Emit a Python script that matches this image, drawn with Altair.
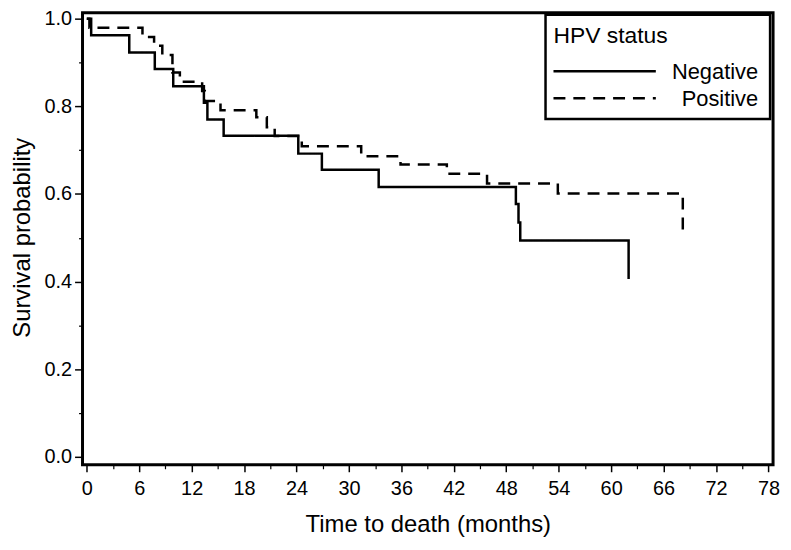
import altair as alt
import pandas as pd

# Kaplan-Meier estimates
neg_t = [0, 0.5, 4.86, 7.78, 9.89, 13.4, 13.8, 15.66, 24.2, 26.9, 33.4, 49.1, 49.4, 49.6, 62.0]
neg_s = [1.0, 0.962, 0.923, 0.885, 0.846, 0.808, 0.770, 0.733, 0.692, 0.655, 0.616, 0.577, 0.535, 0.494, 0.406]

pos_t = [0, 0.3, 6.37, 7.7, 8.64, 9.8, 10.65, 13.2, 13.5, 15.3, 19.4, 20.6, 21.5, 24.6, 31.4, 35.9, 41.2, 45.8, 53.9, 68.2]
pos_s = [1.0, 0.979, 0.958, 0.938, 0.917, 0.877, 0.856, 0.835, 0.812, 0.791, 0.775, 0.752, 0.732, 0.709, 0.686, 0.667, 0.646, 0.624, 0.601, 0.501]

groups = ["Negative", "Positive"]
legend_title = "HPV status"
x_major = list(range(0, 79, 6))
x_minor = list(range(3, 79, 6))
y_major = [0.0, 0.2, 0.4, 0.6, 0.8, 1.0]
y_minor = [0.1, 0.3, 0.5, 0.7, 0.9]

df = pd.concat([
    pd.DataFrame({"t": neg_t, "s": neg_s, "g": groups[0]}),
    pd.DataFrame({"t": pos_t, "s": pos_s, "g": groups[1]}),
], ignore_index=True)

FONT = "Liberation Sans"
DASH = [12, 8]
xscale = alt.Scale(domain=[-0.49, 78.53], nice=False, zero=False)
yscale = alt.Scale(domain=[-0.018, 1.0136], nice=False, zero=False)

main = alt.Chart(df).mark_line(interpolate="step-after", color="black", strokeWidth=2.5).encode(
    x=alt.X("t:Q", scale=xscale, axis=alt.Axis(
        values=x_major, orient="bottom", title="Time to death (months)",
        tickSize=7, tickWidth=1.5, labelFontSize=20, labelPadding=7,
        titleFontSize=24, titleY=60, titleBaseline="middle", labelFlush=False)),
    y=alt.Y("s:Q", scale=yscale, axis=alt.Axis(
        values=y_major, format=".1f", orient="left", title="Survival probability",
        tickSize=8, tickWidth=1.5, labelFontSize=20, labelPadding=3,
        titleFontSize=24, titleX=-60, titleY=226, titleBaseline="middle", labelFlush=False)),
    strokeDash=alt.StrokeDash("g:N", scale=alt.Scale(domain=groups, range=[[1, 0], DASH]), legend=None),
    order="t:Q",
)

minor = alt.Chart(df).mark_point(opacity=0).encode(
    x=alt.X("t:Q", scale=xscale, title=None, axis=alt.Axis(
        values=x_minor, labels=False, tickSize=4, tickWidth=1.2, orient="bottom")),
    y=alt.Y("s:Q", scale=yscale, title=None, axis=alt.Axis(
        values=y_minor, labels=False, tickSize=4, tickWidth=1.2, orient="left")),
)

# legend drawn as decoration
leg_df = pd.DataFrame({"g": groups})
box = alt.Chart(leg_df.head(1)).mark_rect(fill="white", stroke="black", strokeWidth=2.5).encode(
    x=alt.value(466), x2=alt.value(692), y=alt.value(2), y2=alt.value(107))
title_txt = alt.Chart(pd.DataFrame({"lab": [legend_title]})).mark_text(
    align="left", baseline="middle", fontSize=23, font=FONT, color="black").encode(
    x=alt.value(474), y=alt.value(24), text="lab:N")
rule_neg = alt.Chart(leg_df.head(1)).mark_rule(color="black", strokeWidth=2.5).encode(
    x=alt.value(474), x2=alt.value(577), y=alt.value(59))
rule_pos = alt.Chart(leg_df.tail(1)).mark_rule(color="black", strokeWidth=2.5, strokeDash=DASH).encode(
    x=alt.value(474), x2=alt.value(577), y=alt.value(86))
lab_neg = alt.Chart(leg_df.head(1)).mark_text(
    align="right", baseline="middle", fontSize=22, font=FONT, color="black").encode(
    x=alt.value(680), y=alt.value(60), text="g:N")
lab_pos = alt.Chart(leg_df.tail(1)).mark_text(
    align="right", baseline="middle", fontSize=22, font=FONT, color="black").encode(
    x=alt.value(680), y=alt.value(87), text="g:N")

chart = alt.layer(main, minor, box, title_txt, rule_neg, rule_pos, lab_neg, lab_pos).resolve_axis(
    x="independent", y="independent").properties(
    width=695, height=455,
    autosize=alt.AutoSizeParams(type="none"),
    padding={"left": 75, "top": 3, "right": 10, "bottom": 76},
).configure_view(stroke="black", strokeWidth=3).configure_axis(
    domain=False, grid=False, tickColor="black", labelColor="black", titleColor="black",
    labelFont=FONT, titleFont=FONT, titleFontWeight="normal",
)

chart.save("out.html", embed_options={"renderer": "svg", "actions": False})
